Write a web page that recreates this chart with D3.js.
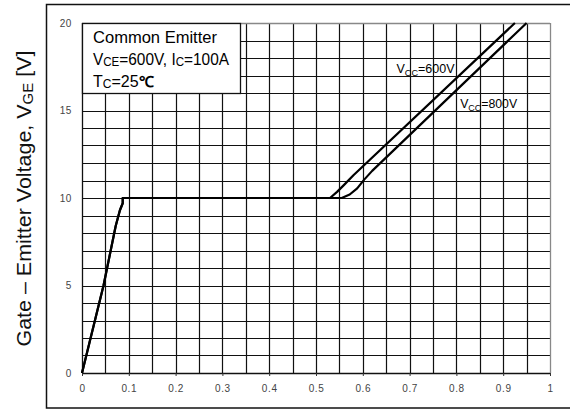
<!DOCTYPE html>
<html>
<head>
<meta charset="utf-8">
<script src="https://cdn.jsdelivr.net/npm/d3@7"></script>
<style>
  body { margin: 0; background: #fff; }
  text { font-family: "Liberation Sans", Arial, sans-serif; }
</style>
</head>
<body>
<div id="chart"></div>
<script>
// gate charge curves
const xTicks = [0, 0.1, 0.2, 0.3, 0.4, 0.5, 0.6, 0.7, 0.8, 0.9, 1];
const xTickLabels = ['0', '0.1', '0.2', '0.3', '0.4', '0.5', '0.6', '0.7', '0.8', '0.9', '1'];
const yTicks = [0, 5, 10, 15, 20];
const yTickLabels = ['0', '5', '10', '15', '20'];
const xGrid = [0.05, 0.1, 0.15, 0.2, 0.25, 0.3, 0.35, 0.4, 0.45, 0.5, 0.55, 0.6, 0.65, 0.7, 0.75, 0.8, 0.85, 0.9, 0.95];
const yGrid = [1, 2, 3, 4, 5, 6, 7, 8, 9, 10, 11, 12, 13, 14, 15, 16, 17, 18, 19];

const vcc600 = [[0, 0], [0.046, 5], [0.072, 8.4], [0.081, 9.3], [0.087, 9.7], [0.087, 10],
    [0.53, 10], [0.545, 10.35], [0.56, 10.75], [0.58, 11.3], [0.925, 20]];
const vcc800 = [[0, 0], [0.046, 5], [0.072, 8.4], [0.081, 9.3], [0.087, 9.7], [0.087, 10],
    [0.555, 10], [0.572, 10.2], [0.588, 10.55], [0.603, 11.05], [0.62, 11.55], [0.95, 20]];

const width = 570, height = 410;
const svg = d3.select('#chart').append('svg')
    .attr('width', width)
    .attr('height', height);

const x = d3.scaleLinear().domain([0, 1]).range([82, 550]);
const y = d3.scaleLinear().domain([0, 20]).range([373, 23]);
const px = v => Math.round(v) + 0.5;

// outer frame (right side runs off the picture)
svg.append('rect')
    .attr('x', 46.5).attr('y', 4.5)
    .attr('width', 540).attr('height', 403.5)
    .attr('fill', 'none').attr('stroke', '#111').attr('stroke-width', 1.5);

// grid
const grid = svg.append('g').attr('stroke', '#111').attr('stroke-width', 1.2);
grid.selectAll('line.gx').data(xGrid).join('line')
    .attr('class', 'gx')
    .attr('x1', d => px(x(d))).attr('x2', d => px(x(d)))
    .attr('y1', y(0)).attr('y2', y(20));
grid.selectAll('line.gy').data(yGrid).join('line')
    .attr('class', 'gy')
    .attr('x1', x(0)).attr('x2', x(1))
    .attr('y1', d => px(y(d))).attr('y2', d => px(y(d)));

// plot border: left/bottom dark, top/right grey
const border = svg.append('g').attr('stroke-width', 1.3);
border.append('line').attr('x1', x(0)).attr('x2', x(1)).attr('y1', px(y(20))).attr('y2', px(y(20))).attr('stroke', '#888');
border.append('line').attr('x1', px(x(1))).attr('x2', px(x(1))).attr('y1', y(0)).attr('y2', y(20)).attr('stroke', '#888');
border.append('line').attr('x1', px(x(0))).attr('x2', px(x(0))).attr('y1', y(0)).attr('y2', y(20)).attr('stroke', '#111');
border.append('line').attr('x1', x(0)).attr('x2', x(1)).attr('y1', px(y(0))).attr('y2', px(y(0))).attr('stroke', '#111');

// axes (labels + small ticks)
const xAxis = d3.axisBottom(x).tickValues(xTicks).tickSize(3).tickPadding(9)
    .tickFormat((d, i) => xTickLabels[i]);
svg.append('g').attr('transform', `translate(0,${y(0)})`).call(xAxis)
    .call(g => g.select('.domain').remove())
    .call(g => g.selectAll('line').attr('stroke', '#333'))
    .call(g => g.selectAll('text').attr('font-size', 10).attr('fill', '#444')
        .attr('letter-spacing', 0.6).attr('font-family', '"Liberation Sans", Arial, sans-serif'));

const yAxis = d3.axisLeft(y).tickValues(yTicks).tickSize(0).tickPadding(10)
    .tickFormat((d, i) => yTickLabels[i]);
svg.append('g').attr('transform', `translate(${x(0)},0)`).call(yAxis)
    .call(g => g.select('.domain').remove())
    .call(g => g.selectAll('text').attr('font-size', 10).attr('fill', '#444')
        .attr('letter-spacing', 0.6).attr('font-family', '"Liberation Sans", Arial, sans-serif'));

// curves
const line = d3.line().x(d => x(d[0])).y(d => y(d[1]));
svg.append('g').selectAll('path.curve').data([vcc800, vcc600]).join('path')
    .attr('class', 'curve')
    .attr('d', line)
    .attr('fill', 'none')
    .attr('stroke', '#000')
    .attr('stroke-width', 2.2)
    .attr('stroke-linejoin', 'round');

// legend box
svg.append('rect')
    .attr('x', px(x(0))).attr('y', px(y(20)))
    .attr('width', Math.round(x(0.338) - x(0))).attr('height', Math.round(y(16) - y(20)))
    .attr('fill', '#fff').attr('stroke', '#111').attr('stroke-width', 1.3);

const leg = svg.append('g').attr('font-size', 16).attr('fill', '#000');
leg.append('text').attr('x', 93).attr('y', 43).attr('textLength', 124)
    .attr('lengthAdjust', 'spacingAndGlyphs').text('Common Emitter');

const l2 = leg.append('text').attr('x', 93).attr('y', 65).attr('textLength', 136)
    .attr('lengthAdjust', 'spacingAndGlyphs');
l2.append('tspan').text('V');
l2.append('tspan').attr('font-size', 12).attr('dy', 1).text('CE');
l2.append('tspan').attr('dy', -1).text('=600V, I');
l2.append('tspan').attr('font-size', 12).attr('dy', 1).text('C');
l2.append('tspan').attr('dy', -1).text('=100A');

const l3 = leg.append('text').attr('x', 93).attr('y', 87);
l3.append('tspan').text('T');
l3.append('tspan').attr('font-size', 12).attr('dy', 1).text('C');
l3.append('tspan').attr('dy', -1).text('=25');
l3.append('tspan').attr('font-weight', 'bold').attr('font-size', 15).text('℃');

// series labels
function vccLabel(vx, vy, len, volts) {
    const t = svg.append('text').attr('x', x(vx)).attr('y', y(vy))
        .attr('font-size', 13).attr('textLength', len).attr('lengthAdjust', 'spacingAndGlyphs');
    t.append('tspan').text('V');
    t.append('tspan').attr('font-size', 9.5).attr('dy', 3).text('CC');
    t.append('tspan').attr('dy', -3).text('=' + volts);
}
vccLabel(0.672, 17.13, 58, '600V');
vccLabel(0.808, 15.14, 57, '800V');

// y title
const yt = svg.append('text')
    .attr('transform', `translate(31,${(y(0) + y(20)) / 2 + 0.5}) rotate(-90)`)
    .attr('text-anchor', 'middle').attr('font-size', 20).attr('fill', '#111')
    .attr('textLength', 296).attr('lengthAdjust', 'spacingAndGlyphs');
yt.append('tspan').text('Gate – Emitter Voltage, V');
yt.append('tspan').attr('font-size', 14).attr('dy', 2).text('GE');
yt.append('tspan').attr('dy', -2).text(' [V]');
</script>
</body>
</html>
